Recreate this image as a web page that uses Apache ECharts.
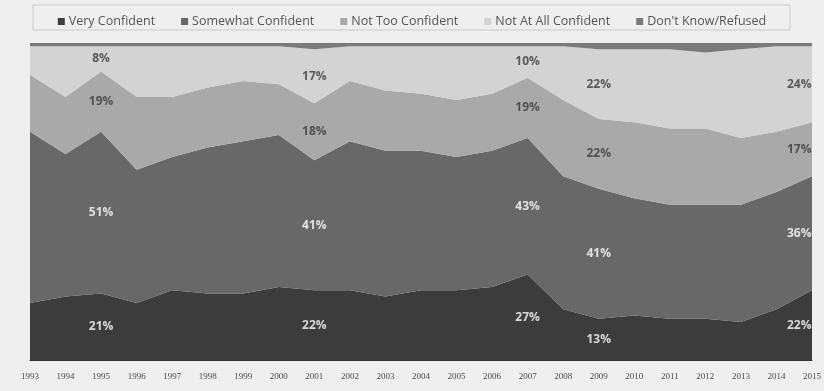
<!DOCTYPE html>
<html>
<head>
<meta charset="utf-8">
<script src="https://cdn.jsdelivr.net/npm/echarts@6/dist/echarts.min.js"></script>
<style>
  html, body { margin: 0; padding: 0; background: #efefef; }
  #chart { width: 824px; height: 391px; }
</style>
</head>
<body>
<div id="chart"></div>
<script>
// Survey years
const years = ['1993','1994','1995','1996','1997','1998','1999','2000','2001','2002','2003',
               '2004','2005','2006','2007','2008','2009','2010','2011','2012','2013','2014','2015'];

// Share of respondents (%) by answer, per year
const veryConfident     = [18, 20, 21, 18, 22, 21, 21, 23, 22, 22, 20, 22, 22, 23, 27, 16, 13, 14, 13, 13, 12, 16, 22];
const somewhatConfident = [54, 45, 51, 42, 42, 46, 48, 48, 41, 47, 46, 44, 42, 43, 43, 42, 41, 37, 36, 36, 37, 37, 36];
const notTooConfident   = [18, 18, 19, 23, 19, 19, 19, 16, 18, 19, 19, 18, 18, 18, 19, 24, 22, 24, 24, 24, 21, 19, 17];
const notAtAllConfident = [ 9, 16,  8, 16, 16, 13, 11, 12, 17, 11, 14, 15, 17, 15, 10, 17, 22, 23, 25, 24, 28, 27, 24];
const dontKnowRefused   = [ 1,  1,  1,  1,  1,  1,  1,  1,  2,  1,  1,  1,  1,  1,  1,  1,  2,  2,  2,  3,  2,  1,  1];

// Years whose values are printed on the bands
const labelYears = ['1995', '2001', '2007', '2009', '2015'];

const bands = [
  { name: 'Very Confident',        data: veryConfident,     color: '#3c3c3c', text: '#ffffff' },
  { name: 'Somewhat Confident',    data: somewhatConfident, color: '#686868', text: '#ffffff' },
  { name: 'Not Too Confident',     data: notTooConfident,   color: '#a9a9a9', text: '#3a3a3a' },
  { name: 'Not At All Confident',  data: notAtAllConfident, color: '#d3d3d3', text: '#3a3a3a' },
  { name: "Don't Know/Refused",    data: dontKnowRefused,   color: '#7a7a7a', text: null }
];

const series = [];
bands.forEach(function (b) {
  series.push({
    name: b.name,
    type: 'line',
    stack: 'total',
    data: b.data,
    symbol: 'none',
    lineStyle: { width: 0, color: b.color },
    itemStyle: { color: b.color },
    areaStyle: { color: b.color, opacity: 1 },
    emphasis: { disabled: true }
  });
});

// Value labels sit in the middle of each band
bands.forEach(function (b, k) {
  if (!b.text) return;
  const pts = labelYears.map(function (y, j) {
    const i = years.indexOf(y);
    let below = 0;
    for (let m = 0; m < k; m++) below += bands[m].data[i];
    const item = { value: [y, below + b.data[i] / 2, b.data[i]] };
    if (j === labelYears.length - 1) {
      item.label = { position: 'left', distance: 0 };
    }
    return item;
  });
  series.push({
    name: b.name + ' values',
    type: 'scatter',
    data: pts,
    symbol: 'circle',
    symbolSize: 1,
    itemStyle: { color: 'rgba(0,0,0,0)' },
    silent: true,
    z: 5,
    label: {
      show: true,
      position: 'inside',
      formatter: function (p) { return p.value[2] + '%'; },
      color: b.text,
      fontFamily: 'Open Sans',
      fontWeight: 'bold',
      fontSize: 12
    }
  });
});

const chart = echarts.init(document.getElementById('chart'), null, { renderer: 'canvas' });
chart.setOption({
  animation: false,
  backgroundColor: '#efefef',
  legend: {
    data: bands.map(function (b) { return b.name; }),
    left: 'center',
    top: 10,
    icon: 'rect',
    itemWidth: 7,
    itemHeight: 7,
    itemGap: 26,
    textStyle: { color: '#555555', fontFamily: 'Open Sans', fontSize: 12.5, padding: [0, 0, 0, -1] }
  },
  graphic: [{
    type: 'rect',
    shape: { x: 33, y: 5, width: 757, height: 25 },
    style: { fill: 'none', stroke: '#c9c9c9', lineWidth: 1 },
    silent: true
  }],
  grid: { left: 30, right: 9, top: 43, bottom: 31 },
  xAxis: {
    type: 'category',
    data: years,
    boundaryGap: false,
    axisTick: { show: false },
    axisLine: { show: true, lineStyle: { color: '#333333' } },
    axisLabel: { color: '#4a4a4a', fontSize: 9, fontFamily: 'Liberation Serif', margin: 12, interval: 0 }
  },
  yAxis: {
    type: 'value',
    min: 0,
    max: 100,
    show: false,
    splitLine: { show: false }
  },
  series: series
});
</script>
</body>
</html>
